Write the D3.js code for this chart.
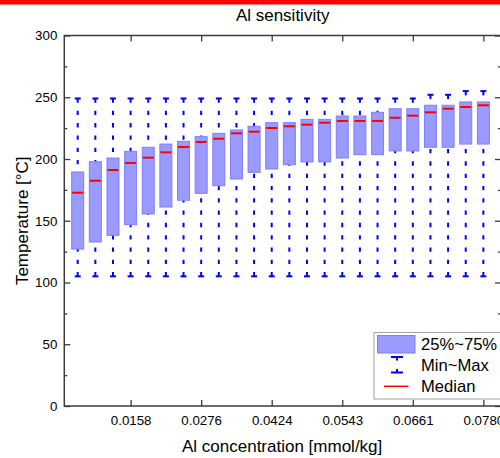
<!DOCTYPE html>
<html>
<head>
<meta charset="utf-8">
<script src="https://cdn.jsdelivr.net/npm/d3@7"></script>
<style>
  html, body { margin: 0; padding: 0; background: #fff; }
  svg { display: block; }
  text { font-family: Arial, "Liberation Sans", sans-serif; fill: #000; }
</style>
</head>
<body>
<svg id="chart" width="500" height="458"></svg>
<script>
// Box statistics per Al concentration step (24 steps), temperatures in °C
const minVals = [105,105,105,105,105,105,105,105,105,105,105,105,105,105,105,105,105,105,105,105,105,105,105,105];
const maxVals = [249,249,249,249,249,249,249,249,249,249,249,249,249,249,249,249,249,249,249,249,252,252,255,255];
const q1Vals  = [127.1,132.8,138.2,146.8,155.5,161.1,166.6,172.2,178.4,183.8,189.2,191.9,195.4,197.6,197.6,200.8,203.5,203.5,206.5,206.5,209.5,209.5,212.1,212.1];
const q3Vals  = [189.5,197.8,200.8,206.2,209.5,212.1,214.3,218.1,220.8,223.5,226.5,229.4,229.4,232.1,232.1,234.8,234.8,237.8,240.7,240.7,243.5,243.5,246.2,246.2];
const medVals = [172.7,182.4,191.1,196.8,201.1,205.4,209.7,213.8,216.4,220.8,222.1,225.1,226.5,227.8,229.4,230.8,230.8,230.8,233.4,235.1,237.8,240.7,242.1,243.5];

// Labelled concentration ticks (mmol/kg) and the step they sit on
const tickSteps  = [3, 7, 11, 15, 19, 23];
const tickLabels = ["0.0158", "0.0276", "0.0424", "0.0543", "0.0661", "0.0780"];

const yMajor = [0, 50, 100, 150, 200, 250, 300];
const yMinor = [25, 75, 125, 175, 225, 275];

const legendLabels = ["25%~75%", "Min~Max", "Median"];

const boxes = minVals.map((mn, i) => ({
  i, min: mn, max: maxVals[i], q1: q1Vals[i], q3: q3Vals[i], med: medVals[i]
}));

const svg = d3.select("#chart");
const W = 500;

const pLeft = 64.3, pRight = 501, pTop = 35.5, pBottom = 406;

const x = d3.scaleLinear().domain([-0.76, 24]).range([pLeft, pRight]);
const y = d3.scaleLinear().domain([0, 300]).range([pBottom, pTop]);

const axisColor = "#3c3c3c";
const boxFill = "#9a9aff";
const boxStroke = "#7f7fff";
const whiskerColor = "#0000ff";
const boxW = 12;
const capW = 6;
const dash = "4.3,8";

// red strip along the top edge
svg.append("rect").attr("x", 0).attr("y", 0).attr("width", W).attr("height", 4.5).attr("fill", "#ff0000");

// title
svg.append("text")
  .attr("x", (pLeft + pRight) / 2).attr("y", 21)
  .attr("text-anchor", "middle").attr("font-size", 17)
  .text("Al sensitivity");

const plot = svg.append("g");

// whiskers: dashed lines that start at the caps
const wg = plot.append("g").attr("stroke", whiskerColor).attr("stroke-width", 2).attr("fill", "none");
boxes.forEach(b => {
  const cx = x(b.i);
  wg.append("line").attr("x1", cx).attr("x2", cx).attr("y1", y(b.max)).attr("y2", y(b.q3))
    .attr("stroke-dasharray", dash);
  wg.append("line").attr("x1", cx).attr("x2", cx).attr("y1", y(b.min)).attr("y2", y(b.q1))
    .attr("stroke-dasharray", dash);
  wg.append("line").attr("x1", cx - capW / 2).attr("x2", cx + capW / 2).attr("y1", y(b.max)).attr("y2", y(b.max));
  wg.append("line").attr("x1", cx - capW / 2).attr("x2", cx + capW / 2).attr("y1", y(b.min)).attr("y2", y(b.min));
});

// interquartile boxes
plot.append("g").selectAll("rect").data(boxes).join("rect")
  .attr("x", d => x(d.i) - boxW / 2)
  .attr("width", boxW)
  .attr("y", d => y(d.q3))
  .attr("height", d => y(d.q1) - y(d.q3))
  .attr("fill", boxFill)
  .attr("stroke", boxStroke)
  .attr("stroke-width", 1);

// medians
plot.append("g").selectAll("line").data(boxes).join("line")
  .attr("x1", d => x(d.i) - boxW / 2 + 0.5)
  .attr("x2", d => x(d.i) + boxW / 2 - 0.5)
  .attr("y1", d => y(d.med)).attr("y2", d => y(d.med))
  .attr("stroke", "#ff0000").attr("stroke-width", 2);

// axes
function styleAxis(g) {
  g.select(".domain").remove();
  g.selectAll(".tick line").attr("stroke", axisColor).attr("stroke-width", 1.3);
  g.selectAll(".tick text").attr("fill", "#000").attr("font-size", 13.3)
    .attr("font-family", 'Arial, "Liberation Sans", sans-serif');
}

svg.append("g").attr("transform", `translate(${pLeft},0)`)
  .call(d3.axisLeft(y).tickValues(yMajor).tickSize(-6).tickSizeOuter(0).tickPadding(7))
  .call(styleAxis);
svg.append("g").attr("transform", `translate(${pLeft},0)`)
  .call(d3.axisLeft(y).tickValues(yMinor).tickSize(-3).tickSizeOuter(0).tickFormat(""))
  .call(styleAxis);
svg.append("g").attr("transform", `translate(${pRight},0)`)
  .call(d3.axisRight(y).tickValues(yMajor).tickSize(-6).tickSizeOuter(0).tickFormat(""))
  .call(styleAxis);
svg.append("g").attr("transform", `translate(${pRight},0)`)
  .call(d3.axisRight(y).tickValues(yMinor).tickSize(-3).tickSizeOuter(0).tickFormat(""))
  .call(styleAxis);
svg.append("g").attr("transform", `translate(0,${pBottom})`)
  .call(d3.axisBottom(x).tickValues(tickSteps).tickSize(-6).tickSizeOuter(0).tickPadding(9.6)
    .tickFormat((d, i) => tickLabels[i]))
  .call(styleAxis);
svg.append("g").attr("transform", `translate(0,${pTop})`)
  .call(d3.axisTop(x).tickValues(tickSteps).tickSize(-6).tickSizeOuter(0).tickFormat(""))
  .call(styleAxis);

// frame
svg.append("rect")
  .attr("x", pLeft).attr("y", pTop).attr("width", pRight - pLeft).attr("height", pBottom - pTop)
  .attr("fill", "none").attr("stroke", axisColor).attr("stroke-width", 1.5);

// axis titles
svg.append("text")
  .attr("x", (pLeft + pRight) / 2 - 0.5).attr("y", 451.5)
  .attr("text-anchor", "middle").attr("font-size", 17)
  .text("Al concentration [mmol/kg]");
svg.append("text")
  .attr("transform", `translate(27.5,${(pTop + pBottom) / 2}) rotate(-90)`)
  .attr("text-anchor", "middle").attr("font-size", 17)
  .text("Temperature [°C]");

// legend
const lg = svg.append("g");
lg.append("rect").attr("x", 374).attr("y", 332.5).attr("width", 140).attr("height", 66.5)
  .attr("fill", "#fff").attr("stroke", "#a0a0a0").attr("stroke-width", 1);
lg.append("rect").attr("x", 377.5).attr("y", 335.5).attr("width", 37.5).attr("height", 17.5)
  .attr("fill", boxFill).attr("stroke", boxStroke).attr("stroke-width", 1);
const lw = lg.append("g").attr("stroke", whiskerColor).attr("stroke-width", 2);
lw.append("line").attr("x1", 397).attr("x2", 397).attr("y1", 357).attr("y2", 372.5).attr("stroke-dasharray", "3.5,8.5");
lw.append("line").attr("x1", 391).attr("x2", 403).attr("y1", 357).attr("y2", 357);
lw.append("line").attr("x1", 391).attr("x2", 403).attr("y1", 372.5).attr("y2", 372.5);
lw.append("line").attr("x1", 397).attr("x2", 397).attr("y1", 369).attr("y2", 372.5);
lg.append("line").attr("x1", 384).attr("x2", 408.5).attr("y1", 386.3).attr("y2", 386.3)
  .attr("stroke", "#ff0000").attr("stroke-width", 1.5);
const ly = [350, 371.3, 391.7];
lg.selectAll("text.lt").data(legendLabels).join("text").attr("class", "lt")
  .attr("x", 421).attr("y", (d, i) => ly[i]).attr("font-size", 16.6)
  .text(d => d);
</script>
</body>
</html>
